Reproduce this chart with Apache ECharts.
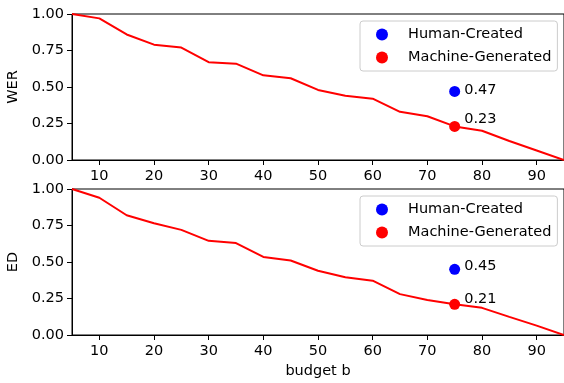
<!DOCTYPE html>
<html>
<head>
<meta charset="utf-8">
<script src="https://cdn.jsdelivr.net/npm/echarts@6/dist/echarts.min.js"></script>
<style>
  html, body { margin: 0; padding: 0; background: #fff; }
  #chart { width: 564px; height: 383px; }
</style>
</head>
<body>
<div id="chart"></div>
<script>
// budget values on the x axis
const budgets = [5, 10, 15, 20, 25, 30, 35, 40, 45, 50, 55, 60, 65, 70, 75, 80, 85, 90, 95]
const xTicks = [10, 20, 30, 40, 50, 60, 70, 80, 90]
const yTicks = [0, 0.25, 0.5, 0.75, 1]

// machine-generated curves
const werCurve = [1.0, 0.97, 0.86, 0.79, 0.77, 0.67, 0.66, 0.58, 0.56, 0.48, 0.44, 0.42, 0.33, 0.30, 0.23, 0.20, 0.13, 0.065, 0.0]
const edCurve = [1.0, 0.94, 0.82, 0.765, 0.72, 0.645, 0.63, 0.535, 0.51, 0.44, 0.395, 0.372, 0.28, 0.24, 0.21, 0.186, 0.124, 0.064, 0.0]

// single points at budget 75
const pointBudget = 75
const werHuman = 0.47
const werMachine = 0.23
const edHuman = 0.45
const edMachine = 0.21

const FONT = 'DejaVu Sans'
const FS = 14.5
const chart = echarts.init(document.getElementById('chart'), null, { renderer: 'canvas' })

function xAxisFor(gridIndex, name) {
  return {
    type: 'value', gridIndex, min: 5, max: 95,
    name, nameLocation: 'middle', nameGap: 29,
    nameTextStyle: { fontFamily: FONT, fontSize: FS, color: '#000' },
    axisLine: { show: true, onZero: false, lineStyle: { color: '#000', width: 1 } },
    axisTick: { show: true, inside: false, length: 5, customValues: xTicks, lineStyle: { color: '#000' } },
    axisLabel: { customValues: xTicks, margin: 9, fontFamily: FONT, fontSize: FS, color: '#000' },
    splitLine: { show: false }
  }
}

function yAxisFor(gridIndex, name) {
  return {
    type: 'value', gridIndex, min: 0, max: 1, interval: 0.25,
    name, nameLocation: 'middle', nameGap: 46, nameRotate: 90,
    nameTextStyle: { fontFamily: FONT, fontSize: FS, color: '#000' },
    axisLine: { show: true, lineStyle: { color: '#000', width: 1 } },
    axisTick: { show: true, inside: false, length: 5, lineStyle: { color: '#000' } },
    axisLabel: { margin: 8, fontFamily: FONT, fontSize: FS, color: '#000', formatter: v => v.toFixed(2) },
    splitLine: { show: false }
  }
}

function legendFor(top) {
  return {
    data: ['Human-Created', 'Machine-Generated'],
    orient: 'vertical', left: 360, top,
    icon: 'circle', itemWidth: 12, itemHeight: 12, itemGap: 8,
    padding: [6, 6, 6, 16],
    backgroundColor: 'rgba(255,255,255,0.8)', borderColor: '#ccc', borderWidth: 1, borderRadius: 3,
    textStyle: { fontFamily: FONT, fontSize: FS, color: '#000', lineHeight: 14, padding: [0, 0, 0, 15] },
    selectedMode: false
  }
}

function pointLabel(dy) {
  return { show: true, position: 'right', distance: 4, fontFamily: FONT, fontSize: FS, color: '#000', formatter: p => p.value[1].toFixed(2), offset: [0, dy] }
}

function seriesFor(i, curve, human, machine, humanDy, machineDy) {
  return [
    {
      type: 'line', xAxisIndex: i, yAxisIndex: i, showSymbol: false, symbol: 'none',
      data: budgets.map((b, k) => [b, curve[k]]),
      lineStyle: { color: '#ff0000', width: 2 }, itemStyle: { color: '#ff0000' }, z: 2
    },
    {
      name: 'Human-Created', type: 'scatter', xAxisIndex: i, yAxisIndex: i,
      data: [[pointBudget, human]], symbolSize: 11, itemStyle: { color: '#0000ff', opacity: 1 },
      label: pointLabel(humanDy), z: 3
    },
    {
      name: 'Machine-Generated', type: 'scatter', xAxisIndex: i, yAxisIndex: i,
      data: [[pointBudget, machine]], symbolSize: 11, itemStyle: { color: '#ff0000', opacity: 1 },
      label: pointLabel(machineDy), z: 3
    }
  ]
}

chart.setOption({
  animation: false,
  backgroundColor: '#fff',
  grid: [
    { left: 72, top: 14, width: 492, height: 146, show: true, borderColor: '#000', borderWidth: 1, outerBoundsMode: 'none' },
    { left: 72, top: 189, width: 492, height: 146, show: true, borderColor: '#000', borderWidth: 1, outerBoundsMode: 'none' }
  ],
  xAxis: [xAxisFor(0, ''), xAxisFor(1, 'budget b')],
  yAxis: [yAxisFor(0, 'WER'), yAxisFor(1, 'ED')],
  legend: [legendFor(21), legendFor(196)],
  series: [
    ...seriesFor(0, werCurve, werHuman, werMachine, -1, -7),
    ...seriesFor(1, edCurve, edHuman, edMachine, -3, -5)
  ]
})
</script>
</body>
</html>
